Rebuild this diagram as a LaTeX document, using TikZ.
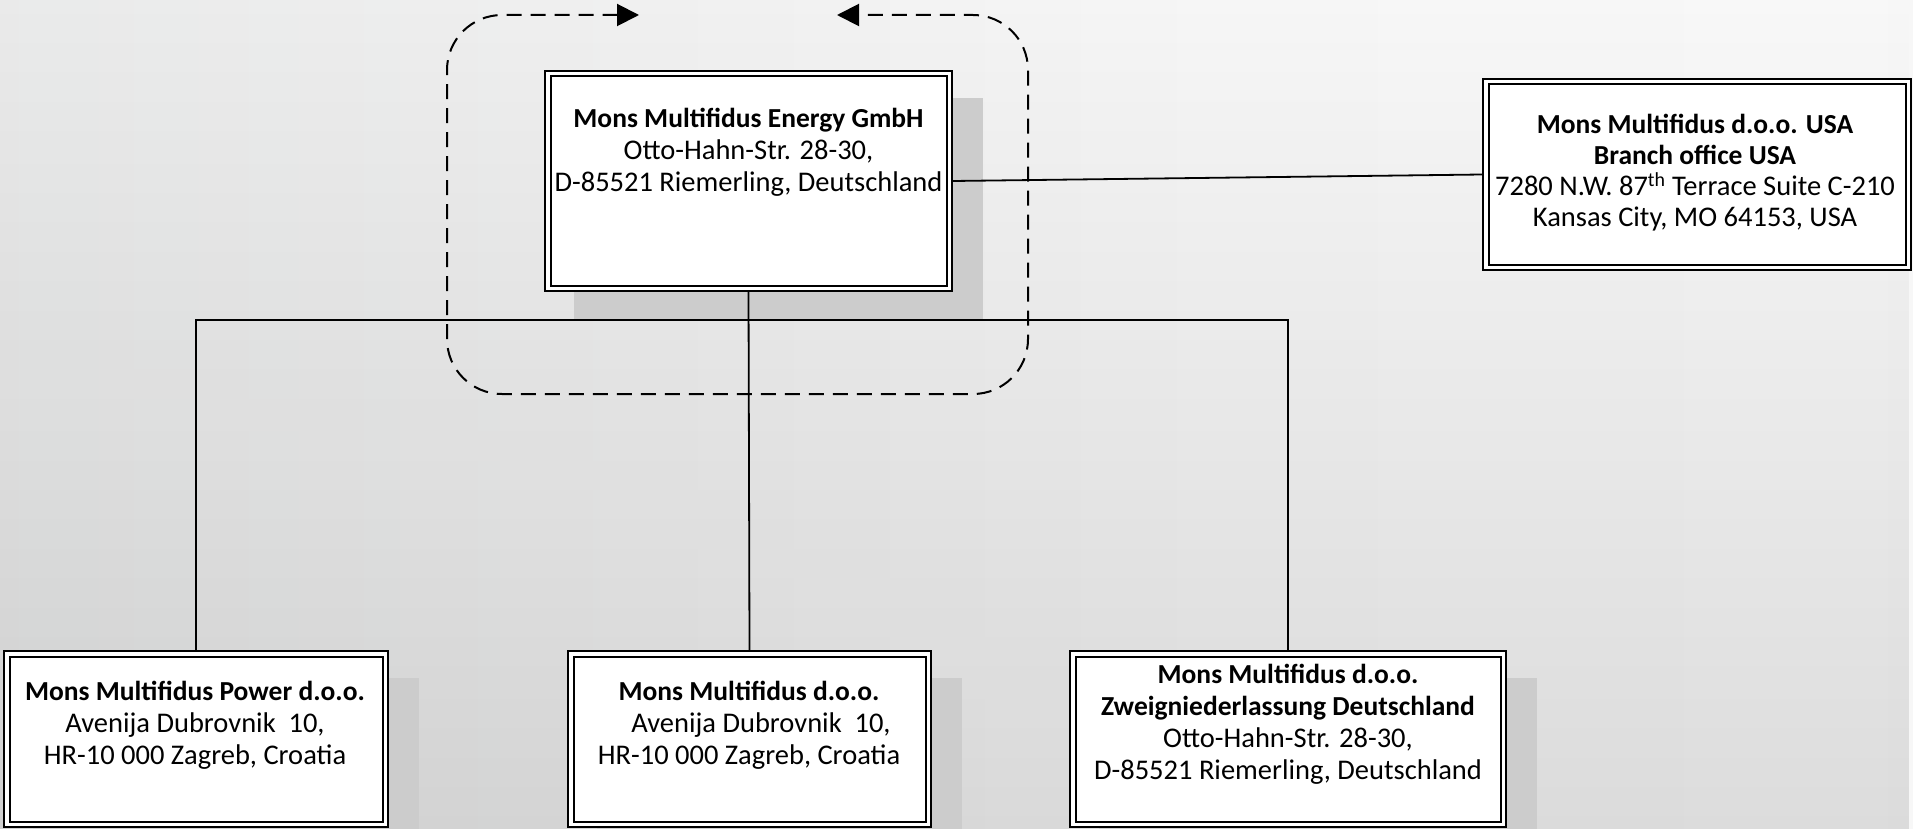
\documentclass[tikz,border=0pt]{standalone}
\usepackage{fontspec}
\setmainfont{Carlito}
\usetikzlibrary{arrows.meta,fadings}
\definecolor{shadowc}{HTML}{CCCCCC}
\definecolor{bga}{HTML}{E3E4E5}
\definecolor{bgb}{HTML}{E8E9E9}
\definecolor{bgc}{HTML}{F0F0F0}
\definecolor{bgd}{HTML}{F6F6F6}
\definecolor{bge}{HTML}{F8F8F8}
\definecolor{bgf}{HTML}{F2F2F2}
\definecolor{bgg}{HTML}{E6E8E8}
\pgfdeclarehorizontalshading{bgshade}{100bp}{color(0bp)=(bga); color(21bp)=(bgb); color(42bp)=(bgc); color(57bp)=(bgd); color(73bp)=(bge); color(89bp)=(bgf); color(100bp)=(bgg)}
\tikzfading[name=vfade, top color=transparent!100, middle color=transparent!78, bottom color=transparent!0]
\newcommand{\bx}[1]{{\fontsize{27.5}{32}\selectfont\bfseries #1}}
\tikzset{
  orgbox/.style={draw=black, line width=2pt, double=white, double distance=3.5pt,
    fill=white, inner sep=0pt, outer sep=3.75pt},
  boxtext/.style={align=center, inner sep=0pt, anchor=north,
    font=\fontsize{28.5}{32}\selectfont},
  conn/.style={draw=black, line width=1.8pt},
  frame/.style={draw=black, line width=2pt, dash pattern=on 15pt off 9pt,
    rounded corners=55pt, {Triangle[length=22pt,width=22pt]}-{Triangle[length=22pt,width=22pt]}},
}
\begin{document}
\begin{tikzpicture}[x=1pt,y=-1pt]
\useasboundingbox (0,0) rectangle (1913,829);
% background
\shade[shading=bgshade] (0,0) rectangle (1913,829);
\fill[black, fill opacity=0.11, path fading=vfade] (0,0) rectangle (1913,829);
% shadows
\fill[shadowc] (574,98) rectangle (983,320);
\fill[shadowc] (33,678) rectangle (419,860);
\fill[shadowc] (597,678) rectangle (962,860);
\fill[shadowc] (1099,678) rectangle (1537,860);
% dashed frame
\coordinate (tipL) at (639,15);
\coordinate (tipR) at (837,15);
\draw[frame] (tipL) -- (447,15) -- (447,394) -- (1028,394) -- (1028,15) -- (tipR);
% boxes
\node[orgbox, minimum width=401.5pt, minimum height=214.5pt] (energy) at (748.5,181) {};
\node[orgbox, minimum width=422.5pt, minimum height=185.5pt] (usa) at (1697,174.5) {};
\node[orgbox, minimum width=378.5pt, minimum height=170.5pt] (left) at (196,739) {};
\node[orgbox, minimum width=357.5pt, minimum height=170.5pt] (mid) at (749.5,739) {};
\node[orgbox, minimum width=430.5pt, minimum height=170.5pt] (right) at (1288,739) {};
% connectors
\coordinate (bus) at (749,320);
\draw[conn] (energy.east) -- (usa.west);
\draw[conn] (energy.south) -- (mid.north);
\draw[conn] (left.north) |- (bus) -| (right.north);
% texts
\node[boxtext] (energyT) at (748.5,107.5) {\bx{Mons Multifidus Energy GmbH}\\Otto-Hahn-Str. 28-30,\\D-85521 Riemerling, Deutschland};
\node[boxtext, font=\fontsize{28.5}{31}\selectfont] (usaT) at (1695,113.5) {\bx{Mons Multifidus d.o.o. USA}\\\bx{Branch office USA}\\7280 N.W. 87\textsuperscript{th} Terrace Suite C-210\\Kansas City, MO 64153, USA};
\node[boxtext] (leftT) at (195,680.5) {\bx{Mons Multifidus Power d.o.o.}\\Avenija Dubrovnik~~10,\\HR-10 000 Zagreb, Croatia};
\node[boxtext] (midT) at (749,680.5) {\bx{Mons Multifidus d.o.o.}\\\hspace*{24pt}Avenija Dubrovnik~~10,\\HR-10 000 Zagreb, Croatia};
\node[boxtext] (rightT) at (1288,663.5) {\bx{Mons Multifidus d.o.o.}\\\bx{Zweigniederlassung Deutschland}\\Otto-Hahn-Str. 28-30,\\D-85521 Riemerling, Deutschland};
\end{tikzpicture}
\end{document}
